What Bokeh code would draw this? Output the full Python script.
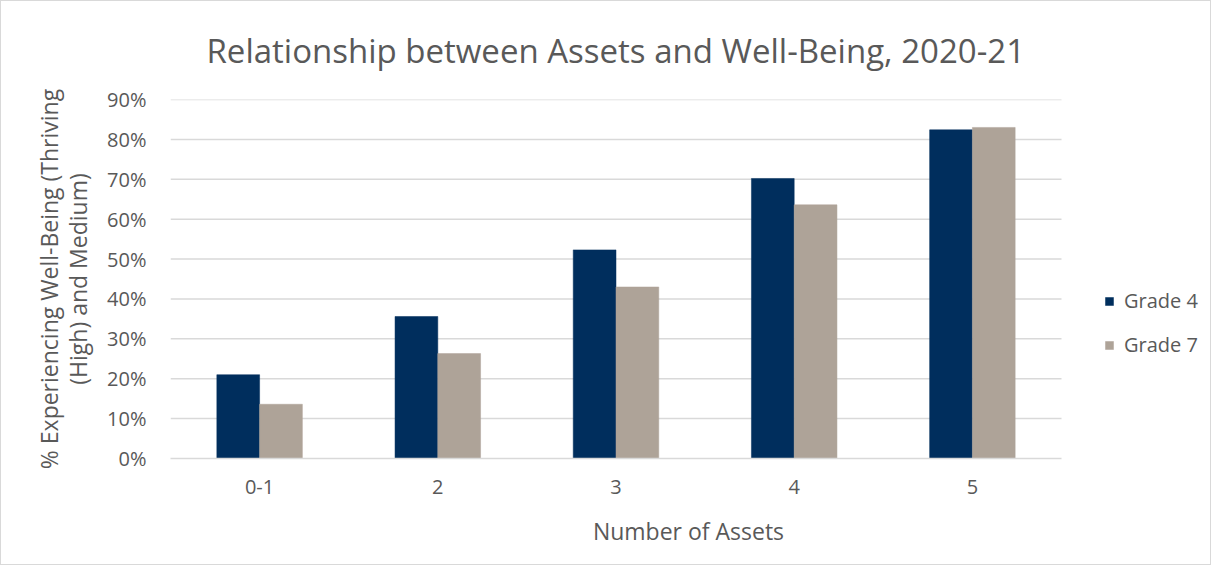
from bokeh.plotting import figure
from bokeh.models import (ColumnDataSource, Range1d, Legend, LegendItem,
                          PrintfTickFormatter, FixedTicker)
from bokeh.transform import dodge
from bokeh.embed import file_html
from bokeh.resources import INLINE

categories = ["0-1", "2", "3", "4", "5"]
grade4 = [21.0, 35.6, 52.3, 70.2, 82.4]
grade7 = [13.6, 26.3, 43.0, 63.6, 83.0]
y_ticks = [0, 10, 20, 30, 40, 50, 60, 70, 80, 90]
series_names = ["Grade 4", "Grade 7"]
colors = ["#002E5D", "#AEA398"]

FONT = "Open Sans"
TXT = "#595959"
GRID = "#D9D9D9"

n = len(categories)
pos = list(range(n))
src = ColumnDataSource(dict(pos=pos, g4=grade4, g7=grade7))

# layout (pixels)
W, H = 1211, 565
LEFT, TOP, BOTTOM = 169, 98, 108
PLOT_RIGHT = 1060          # right end of the category area
FRAME_RIGHT = 1205         # frame extended so the legend can sit inside it
px_per_unit = (PLOT_RIGHT - LEFT) / n
extra = (FRAME_RIGHT - PLOT_RIGHT) / px_per_unit

p = figure(x_range=Range1d(-0.5, n - 0.5 + extra), y_range=Range1d(0, y_ticks[-1]),
           width=W, height=H, output_backend="svg", toolbar_location=None,
           min_border_left=LEFT, min_border_right=W - FRAME_RIGHT,
           min_border_top=TOP, min_border_bottom=BOTTOM,
           title="Relationship between Assets and Well-Being, 2020-21")
p.styles = {"border": "1px solid #D9D9D9"}
p.outline_line_color = None
p.background_fill_color = "white"
p.border_fill_color = "white"

p.title.align = "left"
p.title.offset = 36
p.title.vertical_align = "top"
p.title.text_font = FONT
p.title.text_font_size = "33px"
p.title.text_font_style = "normal"
p.title.text_color = TXT
p.title.standoff = 50

# horizontal gridlines limited to the category area
p.xgrid.grid_line_color = None
p.ygrid.grid_line_color = None
p.segment(x0=-0.5, x1=n - 0.5, y0=y_ticks[1:], y1=y_ticks[1:],
          line_color=GRID, line_width=1.5, level="underlay")

r4 = p.vbar(x=dodge("pos", -0.12), top="g4", width=0.24, source=src,
            fill_color=colors[0], line_color=colors[0], line_width=0.5)
r7 = p.vbar(x=dodge("pos", 0.12), top="g7", width=0.24, source=src,
            fill_color=colors[1], line_color=colors[1], line_width=0.5)

p.yaxis.ticker = FixedTicker(ticks=y_ticks)
p.yaxis.formatter = PrintfTickFormatter(format="%d%%")
p.yaxis.axis_line_color = None
p.yaxis.major_tick_line_color = None
p.yaxis.minor_tick_line_color = None
p.yaxis.major_label_standoff = 18
p.yaxis.axis_label = "% Experiencing Well-Being (Thriving\n(High) and Medium)"
p.yaxis.axis_label_standoff = 10
p.yaxis.axis_label_text_line_height = 0.9

p.xaxis.ticker = FixedTicker(ticks=pos)
p.xaxis.major_label_overrides = {i: c for i, c in zip(pos, categories)}
p.xaxis.bounds = (-0.5, n - 0.5)
p.xaxis.axis_line_color = GRID
p.xaxis.axis_line_width = 1.5
p.xaxis.major_tick_line_color = None
p.xaxis.minor_tick_line_color = None
p.xaxis.major_label_standoff = 15
p.xaxis.axis_label = "Number of Assets"
p.xaxis.axis_label_standoff = 18

for ax in (p.xaxis, p.yaxis):
    ax.major_label_text_font = FONT
    ax.major_label_text_font_size = "20px"
    ax.major_label_text_color = TXT
    ax.axis_label_text_font = FONT
    ax.axis_label_text_font_size = "23px"
    ax.axis_label_text_font_style = "normal"
    ax.axis_label_text_color = TXT

legend = Legend(items=[LegendItem(label=series_names[0], renderers=[r4]),
                       LegendItem(label=series_names[1], renderers=[r7])],
                location=(934, 100))
legend.border_line_color = None
legend.background_fill_alpha = 0
legend.glyph_width = 10
legend.glyph_height = 10
legend.label_standoff = 10
legend.label_height = 20
legend.spacing = 17
legend.padding = 0
legend.margin = 0
legend.label_text_font = FONT
legend.label_text_font_size = "20px"
legend.label_text_color = TXT
p.add_layout(legend, "center")

open("out.html", "w").write(file_html(p, INLINE))
